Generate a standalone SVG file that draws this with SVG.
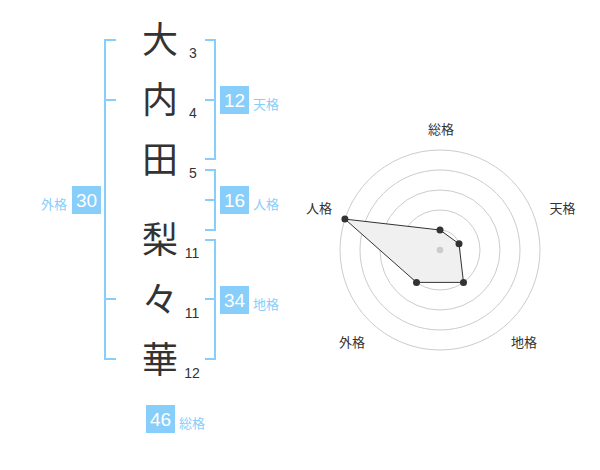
<svg xmlns="http://www.w3.org/2000/svg" width="600" height="470" viewBox="0 0 600 470">
<style>
.ch{font-family:"Noto Sans CJK JP","Noto Sans CJK SC",sans-serif;font-size:36px;fill:#333;text-anchor:middle}
.num{font-family:"Liberation Sans",Arial,sans-serif;font-size:14px;fill:#333;text-anchor:middle}
.br{fill:none;stroke:#87cefa;stroke-width:2}
.box{fill:#87cefa}
.bn{font-family:"Liberation Sans",Arial,sans-serif;font-size:19px;fill:#fff;text-anchor:middle}
.lb{font-family:"Noto Sans CJK JP","Noto Sans CJK SC",sans-serif;font-size:13px;fill:#87cefa}
.ring{fill:none;stroke:#ccc;stroke-width:1}
.rl{font-family:"Noto Sans CJK JP","Noto Sans CJK SC",sans-serif;font-size:13px;fill:#333;text-anchor:middle}
.dot{fill:#333}
</style>
<rect width="600" height="470" fill="#fff"/>
<g id="chars">
<text class="ch" x="160" y="53">大</text>
<text class="ch" x="160" y="113">内</text>
<text class="ch" x="160" y="173">田</text>
<text class="ch" x="160" y="253">梨</text>
<text class="ch" x="160" y="313">々</text>
<text class="ch" x="160" y="373">華</text>
</g>
<g id="strokes">
<text class="num" x="193" y="58">3</text>
<text class="num" x="193" y="118">4</text>
<text class="num" x="193" y="178">5</text>
<text class="num" x="192" y="258">11</text>
<text class="num" x="192" y="318">11</text>
<text class="num" x="192" y="378">12</text>
</g>
<g id="connectors">
<path class="br" d="M116,40 H105 V359 H116 M105,100 H116 M105,299 H116"/>
<path class="br" d="M205,40 H215 V159 H205 M215,100 H205"/>
<path class="br" d="M205,170 H215 V230 H205 M215,200 H205"/>
<path class="br" d="M205,240 H215 V359 H205 M215,299 H205"/>
</g>
<g id="tenkaku">
<rect class="box" x="220" y="86" width="29" height="28"/>
<text class="bn" x="234.5" y="107">12</text>
<text class="lb" x="253" y="109">天格</text>
</g>
<g id="jinkaku">
<rect class="box" x="220" y="186" width="29" height="28"/>
<text class="bn" x="234.5" y="207">16</text>
<text class="lb" x="253" y="209">人格</text>
</g>
<g id="chikaku">
<rect class="box" x="220" y="286" width="29" height="28"/>
<text class="bn" x="234.5" y="307">34</text>
<text class="lb" x="253" y="309">地格</text>
</g>
<g id="gaikaku">
<rect class="box" x="72" y="186" width="29" height="28"/>
<text class="bn" x="86.5" y="207">30</text>
<text class="lb" x="67" y="209" text-anchor="end">外格</text>
</g>
<g id="soukaku">
<rect class="box" x="146" y="405" width="29" height="28"/>
<text class="bn" x="160.5" y="426">46</text>
<text class="lb" x="179" y="428">総格</text>
</g>
<g id="radar">
<circle class="ring" cx="440" cy="250" r="20"/>
<circle class="ring" cx="440" cy="250" r="40"/>
<circle class="ring" cx="440" cy="250" r="60"/>
<circle class="ring" cx="440" cy="250" r="80"/>
<circle class="ring" cx="440" cy="250" r="100"/>
<polygon points="440,230 459,243.8 463.5,282.4 416.5,282.4 344.9,219.1" fill="#f0f0f0" stroke="#333" stroke-width="1"/>
<circle cx="440" cy="250" r="3.3" fill="#ccc"/>
<circle class="dot" cx="440" cy="230" r="3.5"/>
<circle class="dot" cx="459" cy="243.8" r="3.5"/>
<circle class="dot" cx="463.5" cy="282.4" r="3.5"/>
<circle class="dot" cx="416.5" cy="282.4" r="3.5"/>
<circle class="dot" cx="344.9" cy="219.1" r="3.5"/>
<text class="rl" x="441" y="134">総格</text>
<text class="rl" x="562.5" y="213">天格</text>
<text class="rl" x="524" y="347">地格</text>
<text class="rl" x="352" y="347">外格</text>
<text class="rl" x="319" y="213">人格</text>
</g>
</svg>
